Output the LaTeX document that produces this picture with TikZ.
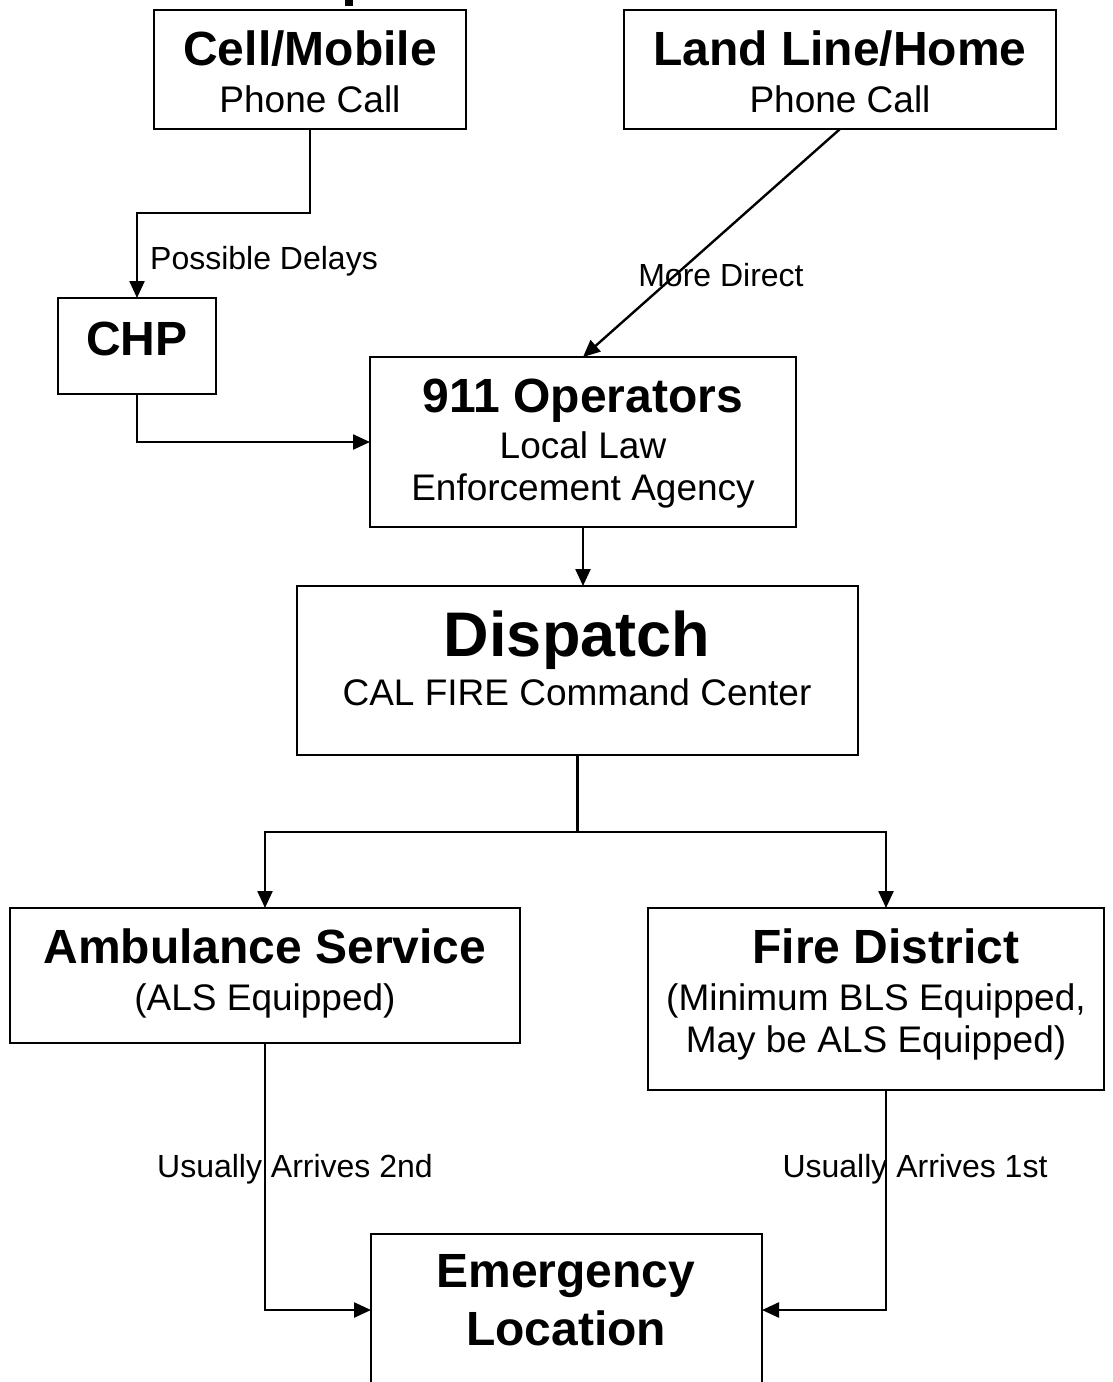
\documentclass[tikz,border=0pt]{standalone}
\usepackage{fontspec}
\setmainfont{Liberation Sans}
\usetikzlibrary{arrows.meta,calc}
\begin{document}
\begin{tikzpicture}[x=1pt,y=-1pt,
  box/.style={draw, line width=2.4pt, rectangle, inner sep=0pt, outer sep=0pt, anchor=north west},
  conn/.style={line width=2.4pt},
  arr/.style={conn, -{Triangle[length=17pt,width=15pt]}},
  tbig/.style={anchor=base, font=\fontsize{48}{50}\selectfont\bfseries, inner sep=0pt},
  thuge/.style={anchor=base, font=\fontsize{63}{65}\selectfont\bfseries, inner sep=0pt},
  tsub/.style={anchor=base, font=\fontsize{37}{40}\selectfont, inner sep=0pt},
  tlab/.style={anchor=base, font=\fontsize{32}{34}\selectfont, inner sep=0pt},
]
\useasboundingbox (0,0) rectangle (1113,1382);
\clip (0,0) rectangle (1113,1382);

% cut-off fragment of the title above the frame
\fill (345,0) rectangle (353,6);

% boxes
\node[box, minimum width=312pt, minimum height=119pt] (cell) at (154,10) {};
\node[box, minimum width=432pt, minimum height=119pt] (land) at (624,10) {};
\node[box, minimum width=158pt, minimum height=96pt]  (chp)  at (58,298) {};
\node[box, minimum width=426pt, minimum height=170pt] (op)   at (370,357) {};
\node[box, minimum width=561pt, minimum height=169pt] (disp) at (297,586) {};
\node[box, minimum width=510pt, minimum height=135pt] (amb)  at (10,908) {};
\node[box, minimum width=456pt, minimum height=182pt] (fire) at (648,908) {};
\node[box, minimum width=391pt, minimum height=152pt] (emer) at (371,1234) {};

% box texts
\node[tbig] (cellT) at (310,65) {Cell/Mobile};
\node[tsub] (cellS) at (310,112) {Phone Call};
\node[tbig] (landT) at (840,65) {Land Line/Home};
\node[tsub] (landS) at (840,112) {Phone Call};
\node[tbig] (chpT) at (137,355) {CHP};
\node[tbig] (opT) at (583,412) {911 Operators};
\node[tsub] (opS1) at (583,458) {Local Law};
\node[tsub] (opS2) at (583,500) {Enforcement Agency};
\node[thuge] (dispT) at (577,656) {Dispatch};
\node[tsub] (dispS) at (577,705) {CAL FIRE Command Center};
\node[tbig] (ambT) at (265,963) {Ambulance Service};
\node[tsub] (ambS) at (265,1010) {(ALS Equipped)};
\node[tbig] (fireT) at (886,963) {Fire District};
\node[tsub] (fireS1) at (876,1010) {(Minimum BLS Equipped,};
\node[tsub] (fireS2) at (876,1052) {May be ALS Equipped)};
\node[tbig] (emT) at (566,1287) {Emergency};
\node[tbig] (emS) at (566,1345) {Location};

% connector labels
\node[tlab, anchor=base west] (pd) at (150,269) {Possible Delays};
\node[tlab] (md) at (721,286) {More Direct};
\node[tlab] (ua2) at (295,1177) {Usually Arrives 2nd};
\node[tlab] (ua1) at (915,1177) {Usually Arrives 1st};

% connectors
\draw[arr] (cell.south) -- (cell.south |- 0,213) -| (chp.north);
\draw[arr] (land.south) -- (op.north);
\draw[arr] (chp.south) |- (op.west);
\draw[arr] (op.south) -- (op.south |- disp.north);
\draw[conn] (disp.south) -- (disp.south |- 0,832) coordinate (split);
\coordinate (fireIn) at ($(fire.north west)+(238,0)$);
\coordinate (fireOut) at ($(fire.south west)+(238,0)$);
\draw[arr] (split) -| (amb.north);
\draw[arr] (split) -| (fireIn);
\draw[arr] (amb.south) |- (emer.west);
\draw[arr] (fireOut) |- (emer.east);
\end{tikzpicture}
\end{document}
